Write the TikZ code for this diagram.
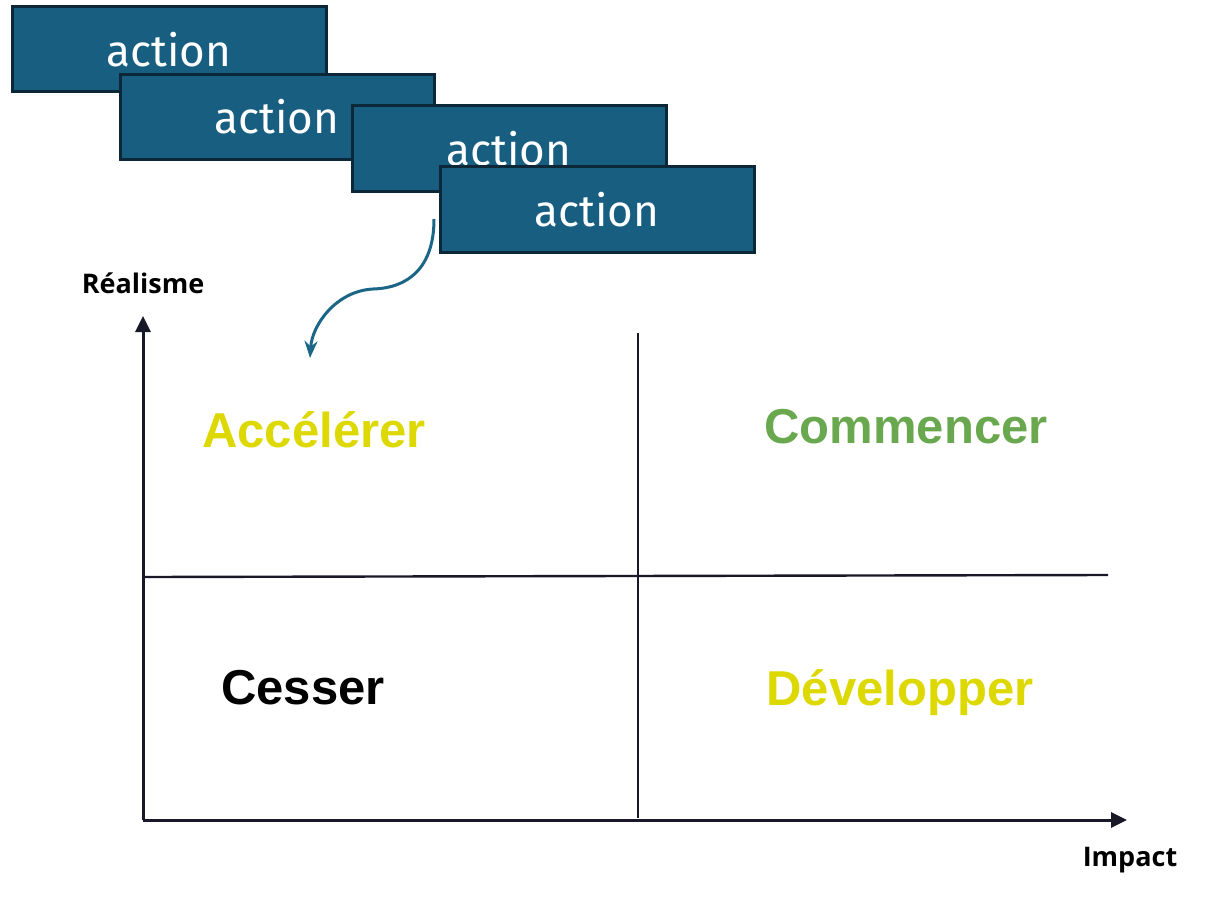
\documentclass[tikz,border=0pt]{standalone}
\usepackage{fontspec}
\setmainfont{Liberation Sans}
\newfontfamily\actfont{Fira Sans}
\newfontfamily\axfont{Open Sans}
\usetikzlibrary{arrows.meta}
\definecolor{boxfill}{RGB}{23,94,128}
\definecolor{boxline}{RGB}{12,40,56}
\definecolor{curvecol}{RGB}{27,101,135}
\definecolor{axiscol}{RGB}{24,24,40}
\definecolor{yel}{RGB}{221,216,0}
\definecolor{grn}{RGB}{106,168,79}
\tikzset{
  actbox/.style={draw=boxline, fill=boxfill, line width=3pt, minimum width=314pt, minimum height=85pt, inner sep=0pt, text=white, font=\actfont\fontsize{44}{48}\selectfont},
  axisline/.style={draw=axiscol, line width=3pt, -{Triangle[length=16pt,width=15pt]}},
  divline/.style={draw=axiscol, line width=2.4pt},
  axlabel/.style={font=\axfont\bfseries\fontsize{27}{30}\selectfont, text=black},
  quad/.style={font=\bfseries\fontsize{49}{54}\selectfont}
}
\begin{document}
\begin{tikzpicture}[x=1pt,y=-1pt]
\useasboundingbox (0,0) rectangle (1206,912);
\node[actbox] (b1) at (169,49.5) {action};
\node[actbox] (b2) at (277,117) {action};
\node[actbox] (b3) at (509,148.5) {action};
\node[actbox] (b4) at (597,209.5) {action};
\coordinate (cs) at (434,219);
\coordinate (ct) at (310,358);
\draw[curvecol, line width=3pt, -{Stealth[length=17pt,width=13pt]}] (cs) .. controls (434,268) and (408,288) .. (373,289) .. controls (336,291) and (312,325) .. (ct);
\coordinate (O) at (143,820);
\coordinate (ytip) at (143,316);
\coordinate (xtip) at (1127,820);
\draw[axisline] (O) -- (ytip);
\draw[axisline] (O) -- (xtip);
\coordinate (v1) at (638,333);
\coordinate (v2) at (638,818);
\coordinate (h1) at (145,577);
\coordinate (h2) at (1108,575);
\draw[divline] (v1) -- (v2);
\draw[divline] (h1) -- (h2);
\node[axlabel] (ry) at (143,283) {Réalisme};
\node[axlabel] (rx) at (1130,860) {Impact};
\node[quad, text=yel] (q1) at (314,430) {Accélérer};
\node[quad, text=grn] (q2) at (906,427) {Commencer};
\node[quad, text=black] (q3) at (303,688) {Cesser};
\node[quad, text=yel] (q4) at (900,693) {Développer};
\end{tikzpicture}
\end{document}
